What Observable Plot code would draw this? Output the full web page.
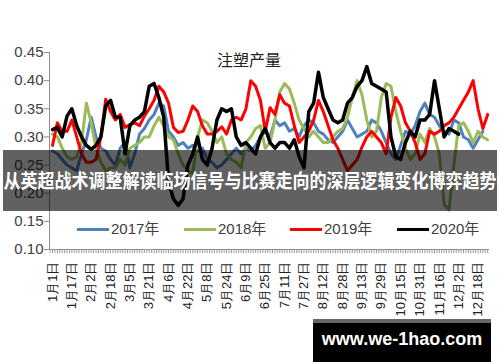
<!DOCTYPE html>
<html><head><meta charset="utf-8">
<script src="https://cdn.jsdelivr.net/npm/d3@7"></script>
<script src="https://cdn.jsdelivr.net/npm/@observablehq/plot@0.6"></script>
<style>
body{margin:0;background:#fff;}
#wrap{position:relative;width:500px;height:362px;overflow:hidden;font-family:"Liberation Sans",Arial,sans-serif;}
#wrap svg{position:absolute;left:0;top:0;}
.title{position:absolute;left:0;width:498px;top:49px;text-align:center;font-family:"Noto Sans CJK SC";font-size:16px;color:#222;line-height:20px;}
.sw{position:absolute;height:3px;width:32px;}
.lt{position:absolute;font-family:"Liberation Sans","Noto Sans CJK SC",sans-serif;font-size:15px;color:#404040;line-height:18px;}
.banner{position:absolute;left:3px;top:150px;width:494px;height:61px;background:rgba(0,0,0,0.62);}
.banner div{position:absolute;left:0;width:494px;top:19px;text-align:center;color:#fff;font-family:"Noto Sans CJK SC";font-weight:bold;font-size:17px;line-height:22px;white-space:nowrap;transform:scaleY(1.15);}
.wm{position:absolute;left:313px;top:319px;width:178px;height:50px;background:#000;border-top:4px solid #666;box-sizing:border-box;}
.wm div{position:absolute;left:0;width:178px;top:5px;text-align:center;color:#fff;font-family:"Liberation Sans",Arial,sans-serif;font-weight:bold;font-size:18px;line-height:22px;}
</style></head><body><div id="wrap"></div>
<script>
const seriesNames = ["2017年", "2018年", "2019年", "2020年"];
const seriesColors = ["#4F81BD", "#9BBB59", "#FF0000", "#000000"];
const xLabels = ["1月1日","1月17日","2月2日","2月18日","3月5日","3月21日","4月6日","4月22日","5月8日","5月24日","6月9日","6月25日","7月11日","7月27日","8月12日","8月28日","9月13日","9月29日","10月15日","10月31日","11月16日","12月2日","12月18日"];
const xTickDays = [0,16,32,48,64,80,96,112,128,144,160,176,192,208,224,240,256,272,288,304,320,336,352];
const yTicks = [0.10, 0.15, 0.20, 0.25, 0.30, 0.35, 0.40, 0.45];
const sampleStep = 4; // data sampled every 4 days from Jan 1

const blue2017 = [0.275,0.27,0.26,0.25,0.245,0.24,0.27,0.295,0.335,0.30,
 0.28,0.275,0.26,0.25,0.28,0.29,0.245,0.27,0.305,0.315,
 0.33,0.34,0.36,0.355,0.31,0.30,0.285,0.29,0.28,0.285,
 0.275,0.28,0.26,0.255,0.245,0.25,0.26,0.27,0.28,0.27,
 0.28,0.275,0.285,0.30,0.31,0.30,0.33,0.32,0.325,0.31,
 0.315,0.30,0.32,0.33,0.325,0.31,0.305,0.295,0.29,0.30,
 0.31,0.33,0.315,0.30,0.305,0.31,0.33,0.325,0.31,0.29,
 0.27,0.26,0.285,0.31,0.305,0.32,0.345,0.36,0.34,0.335,
 0.32,0.31,0.305,0.33,0.325,0.30,0.295,0.28,0.295,0.31];
const green2018 = [0.305,0.30,0.28,0.265,0.26,0.265,0.29,0.36,0.325,0.28,
 0.255,0.24,0.245,0.245,0.26,0.25,0.28,0.285,0.29,0.30,
 0.30,0.32,0.335,0.32,0.30,0.295,0.27,0.25,0.24,0.235,
 0.30,0.33,0.325,0.31,0.29,0.30,0.27,0.26,0.255,0.245,
 0.29,0.30,0.315,0.32,0.28,0.29,0.33,0.38,0.395,0.385,
 0.36,0.33,0.315,0.30,0.31,0.30,0.29,0.29,0.30,0.31,
 0.315,0.335,0.37,0.40,0.375,0.33,0.30,0.31,0.37,0.395,
 0.39,0.345,0.31,0.28,0.26,0.27,0.305,0.29,0.315,0.30,
 0.27,0.18,0.17,0.25,0.32,0.325,0.31,0.29,0.31,0.30,
 0.295];
const red2019 = [0.285,0.325,0.31,0.31,0.33,0.30,0.27,0.255,0.255,0.26,
 0.30,0.367,0.345,0.33,0.34,0.317,0.322,0.325,0.32,0.337,
 0.35,0.365,0.39,0.38,0.36,0.317,0.308,0.31,0.33,0.355,
 0.345,0.32,0.305,0.305,0.31,0.318,0.305,0.33,0.335,0.33,
 0.35,0.40,0.39,0.365,0.31,0.352,0.34,0.375,0.36,0.355,
 0.32,0.29,0.30,0.31,0.33,0.365,0.345,0.32,0.295,0.28,
 0.26,0.24,0.25,0.26,0.282,0.30,0.31,0.30,0.29,0.27,
 0.335,0.37,0.355,0.325,0.31,0.29,0.26,0.27,0.31,0.305,
 0.31,0.32,0.325,0.335,0.35,0.365,0.38,0.40,0.35,0.315,
 0.34];
const black2020 = [0.313,0.317,0.30,0.337,0.35,0.32,0.30,0.285,0.278,0.285,
 0.30,0.355,0.365,0.335,0.335,0.27,0.32,0.33,0.335,0.345,
 0.39,0.395,0.37,0.335,0.22,0.19,0.178,0.19,0.25,0.27,
 0.30,0.26,0.25,0.28,0.33,0.35,0.345,0.35,0.30,0.285,
 0.29,0.28,0.27,0.30,0.315,0.29,0.28,0.29,0.29,0.28,
 0.295,0.265,0.245,0.345,0.36,0.415,0.37,0.35,0.33,0.325,
 0.33,0.36,0.37,0.39,0.40,0.425,0.395,0.39,0.385,0.38,
 0.30,0.265,0.26,0.29,0.31,0.30,0.33,0.33,0.34,0.40,
 0.35,0.30,0.315,0.31,0.305];

const allSeries = [blue2017, green2018, red2019, black2020];
const rows = [];
allSeries.forEach((vals, s) => vals.forEach((v, i) => rows.push({day: i * sampleStep, value: v, series: seriesNames[s]})));
const minorTicks = d3.range(-2, 362, 2);

const chart = Plot.plot({
  width: 500, height: 362,
  marginLeft: 49, marginRight: 11, marginTop: 52, marginBottom: 113,
  style: {background: "transparent", fontFamily: "Liberation Sans, Arial, sans-serif"},
  x: {type: "linear", domain: [-2.5, 361.5]},
  y: {domain: [0.10, 0.45]},
  color: {domain: seriesNames, range: seriesColors},
  marks: [
    Plot.ruleX([-2.5], {stroke: "#8c8c8c", strokeWidth: 1}),
    Plot.ruleY([0.10], {stroke: "#8c8c8c", strokeWidth: 1, x1: -6, x2: 361.5}),
    Plot.axisY({ticks: yTicks, tickFormat: d3.format(".2f"), tickSize: 5, tickPadding: 1, fontSize: 15, stroke: "#8c8c8c", fill: "#404040", label: null, style: {letterSpacing: "2.5px"}}),
    Plot.axisX({ticks: minorTicks, tickSize: 4, tickFormat: () => "", stroke: "#9a9a9a", label: null}),
    Plot.axisX({ticks: xTickDays, tickSize: 0, tickPadding: 12, tickRotate: -90, tickFormat: (d) => xLabels[xTickDays.indexOf(d)], fontSize: 13, fill: "#222", label: null, style: {fontFamily: "Noto Sans CJK SC"}}),
    Plot.line(rows, {x: "day", y: "value", z: "series", stroke: "series", strokeWidth: (d) => d.series === "2020年" ? 3.5 : 3, strokeLinejoin: "round"})
  ]
});
const wrap = document.getElementById("wrap");
wrap.appendChild(chart);

const title = document.createElement("div");
title.className = "title"; title.textContent = "注塑产量";
wrap.appendChild(title);

const legendX = [77, 184, 290, 397];
seriesNames.forEach((n, i) => {
  const sw = document.createElement("div");
  sw.className = "sw"; sw.style.left = legendX[i] + "px"; sw.style.top = "228px"; sw.style.background = seriesColors[i];
  wrap.appendChild(sw);
  const t = document.createElement("div");
  t.className = "lt"; t.style.left = (legendX[i] + 34) + "px"; t.style.top = "220px"; t.textContent = n;
  wrap.appendChild(t);
});

const banner = document.createElement("div");
banner.className = "banner";
banner.innerHTML = "<div>从英超战术调整解读临场信号与比赛走向的深层逻辑变化博弈趋势</div>";
wrap.appendChild(banner);

const wm = document.createElement("div");
wm.className = "wm";
wm.innerHTML = "<div>www.we-1hao.com</div>";
wrap.appendChild(wm);
</script></body></html>
